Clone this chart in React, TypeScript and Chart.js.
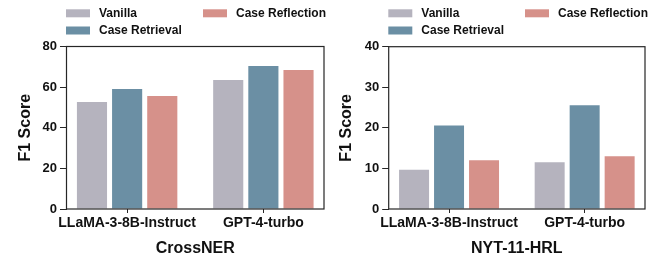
import React, { useEffect, useRef } from 'react';
import { Chart, registerables } from 'chart.js';

Chart.register(...registerables);

const categories = ['LLaMA-3-8B-Instruct', 'GPT-4-turbo'];
const seriesNames = ['Vanilla', 'Case Retrieval', 'Case Reflection'];
const seriesColors = ['#b5b3be', '#6b8fa4', '#d6918a'];

const crossnerVanilla = [52.7, 63.5];
const crossnerRetrieval = [59.1, 70.4];
const crossnerReflection = [55.6, 68.4];
const crossnerYTicks = [0, 20, 40, 60, 80];

const nytVanilla = [9.7, 11.5];
const nytRetrieval = [20.6, 25.6];
const nytReflection = [12.0, 13.0];
const nytYTicks = [0, 10, 20, 30, 40];

const FONT = "'Liberation Sans', Arial, Helvetica, sans-serif";
const TEXT = '#111111';
const SPINE = '#262626';

type PanelProps = {
  title: string;
  series: number[][];
  yTicks: number[];
  width: number;
  height: number;
  yAxisWidth: number;
  rightPad: number;
  topPad: number;
  yTitlePad: number;
  legendCol1: number;
  legendCol2: number;
};

function Panel(p: PanelProps) {
  const ref = useRef<HTMLCanvasElement | null>(null);
  useEffect(() => {
    if (!ref.current) return;
    const legendPlugin = {
      id: 'customLegend',
      afterDraw(chart: any) {
        const ctx = chart.ctx;
        const slots = [
          { ds: 0, x: p.legendCol1, y: 13.3 },
          { ds: 2, x: p.legendCol2, y: 13.3 },
          { ds: 1, x: p.legendCol1, y: 30.5 },
        ];
        ctx.save();
        ctx.font = `bold 12px ${FONT}`;
        ctx.textBaseline = 'middle';
        ctx.textAlign = 'left';
        for (const s of slots) {
          const d = chart.data.datasets[s.ds];
          ctx.fillStyle = d.backgroundColor;
          ctx.fillRect(s.x, s.y - 4, 24, 8);
          ctx.fillStyle = TEXT;
          ctx.fillText(d.label, s.x + 33, s.y + 0.5);
        }
        ctx.restore();
      },
    };
    const framePlugin = {
      id: 'frame',
      afterDraw(chart: any) {
        const { left, top, right, bottom } = chart.chartArea;
        const ctx = chart.ctx;
        ctx.save();
        ctx.strokeStyle = SPINE;
        ctx.lineWidth = 1.2;
        ctx.strokeRect(left, top, right - left, bottom - top);
        ctx.restore();
      },
    };
    const yMax = p.yTicks[p.yTicks.length - 1];
    const step = p.yTicks[1] - p.yTicks[0];
    const chart = new Chart(ref.current, {
      type: 'bar',
      data: {
        datasets: p.series.map((vals, si) => ({
          label: seriesNames[si],
          data: vals.map((v, i) => ({ x: i, y: v })),
          backgroundColor: seriesColors[si],
          borderWidth: 0,
          categoryPercentage: 0.774,
          barPercentage: 0.857,
        })),
      },
      options: {
        responsive: false,
        animation: false,
        events: [],
        layout: { padding: { top: p.topPad, right: p.rightPad, left: 0, bottom: 0 } },
        plugins: { legend: { display: false }, tooltip: { enabled: false } },
        scales: {
          x: {
            type: 'linear',
            min: -0.445,
            max: 1.445,
            offset: false,
            afterBuildTicks: (axis: any) => {
              axis.ticks = categories.map((_, i) => ({ value: i }));
            },
            afterFit: (axis: any) => {
              axis.height = 49;
            },
            ticks: {
              autoSkip: false,
              maxRotation: 0,
              padding: 2,
              color: TEXT,
              font: { family: FONT, size: 14, weight: 'bold' },
              callback: (_v: any, i: number) => categories[i],
            },
            grid: {
              offset: false,
              drawOnChartArea: false,
              drawTicks: true,
              tickLength: 4,
              tickColor: SPINE,
              tickWidth: 1,
            },
            border: { display: false },
            title: {
              display: true,
              text: p.title,
              color: TEXT,
              font: { family: FONT, size: 16, weight: 'bold' },
              padding: { top: 0, bottom: 0 },
            },
          },
          y: {
            type: 'linear',
            min: 0,
            max: yMax,
            afterFit: (axis: any) => {
              axis.width = p.yAxisWidth;
            },
            ticks: {
              stepSize: step,
              padding: 3,
              color: TEXT,
              font: { family: FONT, size: 13, weight: 'bold' },
            },
            grid: {
              drawOnChartArea: false,
              drawTicks: true,
              tickLength: 6.5,
              tickColor: SPINE,
              tickWidth: 1,
            },
            border: { display: false },
            title: {
              display: true,
              text: 'F1 Score',
              color: TEXT,
              font: { family: FONT, size: 16, weight: 'bold' },
              padding: { top: p.yTitlePad, bottom: 0 },
            },
          },
        },
      } as any,
      plugins: [legendPlugin, framePlugin],
    });
    return () => chart.destroy();
  }, []);
  return (
    <canvas
      ref={ref}
      width={p.width}
      height={p.height}
      style={{ display: 'block', width: p.width, height: p.height }}
    />
  );
}

export default function App() {
  return (
    <div
      style={{
        position: 'absolute',
        left: 0,
        top: 0,
        width: 655,
        height: 258,
        display: 'flex',
        background: '#ffffff',
      }}
    >
      <Panel
        title="CrossNER"
        series={[crossnerVanilla, crossnerRetrieval, crossnerReflection]}
        yTicks={crossnerYTicks}
        width={328}
        height={258}
        yAxisWidth={66.5}
        rightPad={4}
        topPad={46.5}
        yTitlePad={16}
        legendCol1={66}
        legendCol2={203}
      />
      <Panel
        title="NYT-11-HRL"
        series={[nytVanilla, nytRetrieval, nytReflection]}
        yTicks={nytYTicks}
        width={327}
        height={258}
        yAxisWidth={60.7}
        rightPad={10}
        topPad={46.7}
        yTitlePad={9}
        legendCol1={60.3}
        legendCol2={197}
      />
    </div>
  );
}
